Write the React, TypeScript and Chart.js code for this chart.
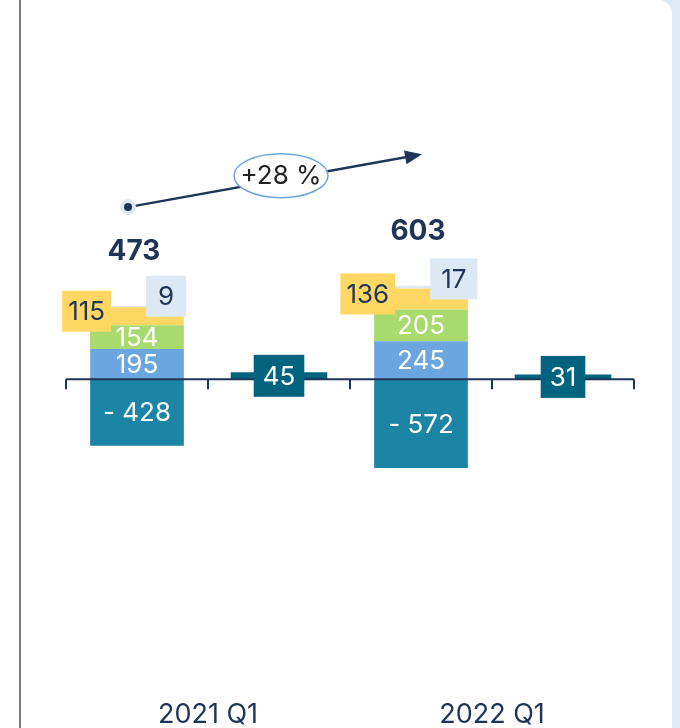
import React, { useEffect, useRef } from 'react';
import { Chart, registerables } from 'chart.js';

Chart.register(...registerables);

// ---- data ----
const periods = ['2021 Q1', '2022 Q1'];
const seriesBlue = [195, 245];
const seriesGreen = [154, 205];
const seriesYellow = [115, 136];
const seriesLight = [9, 17];
const seriesNegative = [-428, -572];
const seriesSide = [45, 31];
const growthLabel = '+28 %';

// ---- styles ----
const NAVY = '#1f3557';
const C_BLUE = '#6ca6e0';
const C_GREEN = '#a8da6e';
const C_YELLOW = '#ffd762';
const C_LIGHT = '#dce9f5';
const C_NEG = '#1c85a6';
const C_SIDE = '#02637f';
const FONT = 'Inter, "Noto Sans", sans-serif';
const LABEL_SIZE = 26;

// annotation arrow heights (in data units)
const ARROW_START_VALUE = 1110;
const ARROW_END_VALUE = 1450;

// four slots: [period0 stack, period0 side, period1 stack, period1 side]
const slotLabels = periods.flatMap((p) => [p + ' main', p + ' side']);
const toStackSlots = (arr: number[]) => arr.flatMap((v) => [v, null]);
const toSideSlots = (arr: number[]) => arr.flatMap((v) => [null, v]);

const totals = periods.map((_, i) => seriesBlue[i] + seriesGreen[i] + seriesYellow[i] + seriesLight[i]);

function drawBox(ctx: CanvasRenderingContext2D, text: string, cx: number, cy: number, bg: string, fg: string, minW = 40, h = 41, pad = 7) {
  ctx.font = `400 ${LABEL_SIZE}px ${FONT}`;
  const w = Math.max(minW, ctx.measureText(text).width + pad * 2);
  ctx.fillStyle = bg;
  ctx.fillRect(cx - w / 2, cy - h / 2, w, h);
  ctx.fillStyle = fg;
  ctx.textAlign = 'center';
  ctx.textBaseline = 'middle';
  ctx.fillText(text, cx, cy + 1);
  return w;
}

const overlayPlugin = {
  id: 'overlay',
  afterDatasetsDraw(chart: any) {
    const ctx: CanvasRenderingContext2D = chart.ctx;
    const xs = chart.scales.x;
    const ys = chart.scales.y;
    const area = chart.chartArea;
    const zeroY = ys.getPixelForValue(0);
    const half = (xs.getPixelForValue(1) - xs.getPixelForValue(0)) / 2;
    ctx.save();

    // zero axis line with tick marks at slot boundaries
    ctx.strokeStyle = NAVY;
    ctx.lineWidth = 2;
    ctx.beginPath();
    ctx.moveTo(area.left, zeroY);
    ctx.lineTo(area.right, zeroY);
    const n = slotLabels.length;
    for (let i = 0; i <= n; i++) {
      const px = Math.round(xs.getPixelForValue(0) - half + i * 2 * half);
      ctx.moveTo(px, zeroY);
      ctx.lineTo(px, zeroY + 10);
    }
    ctx.stroke();

    const meta = (i: number) => chart.getDatasetMeta(i).data;

    periods.forEach((_, p) => {
      const s = p * 2;
      const blue = meta(0)[s];
      const green = meta(1)[s];
      const yellow = meta(2)[s];
      const light = meta(3)[s];
      const neg = meta(4)[s];
      const side = meta(5)[s + 1];
      const barLeft = blue.x - blue.width / 2;

      ctx.font = `400 ${LABEL_SIZE}px ${FONT}`;
      ctx.textAlign = 'center';
      ctx.textBaseline = 'middle';
      ctx.fillStyle = '#ffffff';
      ctx.fillText(String(seriesBlue[p]), blue.x, (blue.y + blue.base) / 2 + 1);
      ctx.fillText(String(seriesGreen[p]), green.x, (green.y + green.base) / 2 + 1);
      ctx.fillText('- ' + Math.abs(seriesNegative[p]), neg.x, (neg.y + neg.base) / 2 + 1);

      // yellow label box, right edge past bar left edge
      ctx.font = `400 ${LABEL_SIZE}px ${FONT}`;
      const yText = String(seriesYellow[p]);
      const yW = Math.max(40, ctx.measureText(yText).width + 12);
      const yCy = (yellow.y + yellow.base) / 2 - 5;
      drawBox(ctx, yText, barLeft + 21 - yW / 2, yCy, C_YELLOW, NAVY, 40, 41, 6);

      // light label box
      const lText = String(seriesLight[p]);
      ctx.font = `400 ${LABEL_SIZE}px ${FONT}`;
      const lW = Math.max(40, ctx.measureText(lText).width + 22);
      drawBox(ctx, lText, barLeft + 56 + lW / 2, yCy - 15, C_LIGHT, NAVY, 40, 41, 11);

      // side bar label
      drawBox(ctx, String(seriesSide[p]), side.x, (side.y + side.base) / 2, C_SIDE, '#ffffff', 42, 42, 9);

      // total
      ctx.font = `700 28px ${FONT}`;
      ctx.fillStyle = NAVY;
      ctx.textAlign = 'center';
      ctx.textBaseline = 'middle';
      const top = light.y;
      ctx.fillText(String(totals[p]), blue.x - 3, top - 54);
    });

    // growth arrow
    const x0 = xs.getPixelForValue(0) - 9;
    const y0 = ys.getPixelForValue(ARROW_START_VALUE);
    const x1 = xs.getPixelForValue(2) + 1;
    const y1 = ys.getPixelForValue(ARROW_END_VALUE);
    const ang = Math.atan2(y1 - y0, x1 - x0);
    ctx.strokeStyle = NAVY;
    ctx.lineWidth = 2.5;
    ctx.beginPath();
    ctx.moveTo(x0, y0);
    ctx.lineTo(x1 - 14 * Math.cos(ang), y1 - 14 * Math.sin(ang));
    ctx.stroke();
    ctx.fillStyle = NAVY;
    ctx.beginPath();
    ctx.moveTo(x1, y1);
    ctx.lineTo(x1 - 17 * Math.cos(ang) + 7 * Math.sin(ang), y1 - 17 * Math.sin(ang) - 7 * Math.cos(ang));
    ctx.lineTo(x1 - 17 * Math.cos(ang) - 7 * Math.sin(ang), y1 - 17 * Math.sin(ang) + 7 * Math.cos(ang));
    ctx.closePath();
    ctx.fill();
    // start dot
    ctx.fillStyle = C_LIGHT;
    ctx.beginPath();
    ctx.arc(x0, y0, 8, 0, Math.PI * 2);
    ctx.fill();
    ctx.fillStyle = NAVY;
    ctx.beginPath();
    ctx.arc(x0, y0, 4, 0, Math.PI * 2);
    ctx.fill();

    // ellipse label
    const ex = xs.getPixelForValue(1) + 2;
    const ey = y0 + ((ex - x0) / (x1 - x0)) * (y1 - y0) - 4;
    ctx.fillStyle = '#ffffff';
    ctx.strokeStyle = C_BLUE;
    ctx.lineWidth = 1.5;
    ctx.beginPath();
    ctx.ellipse(ex, ey, 47, 22, 0, 0, Math.PI * 2);
    ctx.fill();
    ctx.stroke();
    ctx.fillStyle = '#222222';
    ctx.font = `400 ${LABEL_SIZE}px ${FONT}`;
    ctx.textAlign = 'center';
    ctx.textBaseline = 'middle';
    ctx.fillText(growthLabel, ex, ey + 1);

    ctx.restore();
  },
};

export default function App() {
  const ref = useRef<HTMLCanvasElement>(null);

  useEffect(() => {
    if (!ref.current) return;
    const barOpts = { categoryPercentage: 1, barPercentage: 0.66 };
    const chart = new Chart(ref.current, {
      type: 'bar',
      data: {
        labels: slotLabels,
        datasets: [
          { label: 'blue', data: toStackSlots(seriesBlue), backgroundColor: C_BLUE, ...barOpts },
          { label: 'green', data: toStackSlots(seriesGreen), backgroundColor: C_GREEN, ...barOpts },
          { label: 'yellow', data: toStackSlots(seriesYellow), backgroundColor: C_YELLOW, ...barOpts },
          { label: 'light', data: toStackSlots(seriesLight), backgroundColor: C_LIGHT, ...barOpts },
          { label: 'negative', data: toStackSlots(seriesNegative), backgroundColor: C_NEG, ...barOpts },
          { label: 'side', data: toSideSlots(seriesSide), backgroundColor: C_SIDE, categoryPercentage: 1, barPercentage: 0.68 },
        ] as any,
      },
      options: {
        responsive: false,
        animation: false,
        devicePixelRatio: 1,
        layout: { padding: { left: 66, right: 46, top: 0, bottom: 0 } },
        plugins: { legend: { display: false }, tooltip: { enabled: false } },
        scales: {
          x: { display: false, stacked: true },
          x2: {
            type: 'category',
            labels: periods,
            position: 'bottom',
            offset: true,
            grid: { display: false, drawTicks: false },
            border: { display: false },
            ticks: { color: NAVY, padding: 0, font: { family: FONT, size: 27, weight: 400 } },
          },
          y: { display: false, stacked: true, min: -2058, max: 2445 },
        },
      } as any,
      plugins: [overlayPlugin],
    });
    return () => chart.destroy();
  }, []);

  return (
    <div style={{ position: 'fixed', left: 0, top: 0, width: 680, height: 728, background: '#ffffff', overflow: 'hidden' }}>
      <div style={{ position: 'absolute', left: 660, top: 0, width: 20, height: 728, background: '#dde9f4' }} />
      <div style={{ position: 'absolute', left: 21, top: 0, width: 651, height: 728, background: '#ffffff', borderTopRightRadius: 14 }} />
      <div style={{ position: 'absolute', left: 19, top: 0, width: 2, height: 728, background: '#6e7b93' }} />
      <canvas ref={ref} width={680} height={731} style={{ position: 'absolute', left: 0, top: 0, display: 'block' }} />
    </div>
  );
}
